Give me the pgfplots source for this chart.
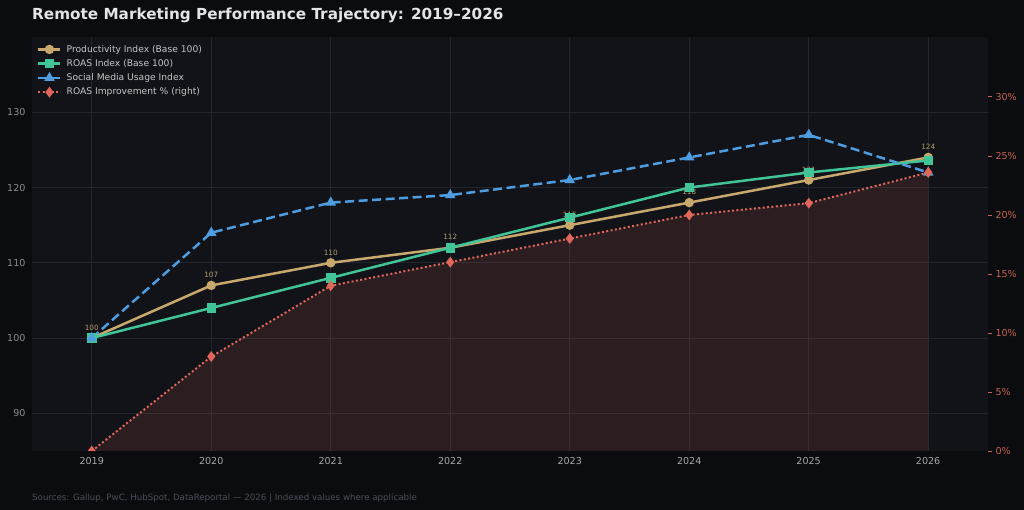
\documentclass[border=0pt]{standalone}
\usepackage{fontspec}
\setmainfont{DejaVu Sans}
\usepackage{pgfplots}
\pgfplotsset{compat=1.18}

\definecolor{figbg}{HTML}{0B0C10}
\definecolor{axbg}{HTML}{111318}
\definecolor{gridcol}{HTML}{22252B}
\definecolor{titlecol}{HTML}{E4E4E4}
\definecolor{xtickcol}{HTML}{A8A8AA}
\definecolor{ytickcol}{HTML}{8A8D95}
\definecolor{rtickcol}{HTML}{C86450}
\definecolor{legcol}{HTML}{C6C6C8}
\definecolor{footcol}{HTML}{4B4E58}
\definecolor{prod}{HTML}{C9A86E}
\definecolor{roas}{HTML}{40C498}
\definecolor{social}{HTML}{4D9DE0}
\definecolor{impr}{HTML}{E0665A}
\definecolor{labcol}{HTML}{B59A6A}

\newcommand\tickfont{\fontsize{9.6}{11}\selectfont}
\newcommand\legfont{\fontsize{9.2}{11}\selectfont}
\newcommand\labfont{\fontsize{7.3}{9}\selectfont}

\pgfplotsset{
  /pgf/number format/assume math mode=true,
  base/.style={
    scale only axis, width=956bp, height=414bp,
    at={(32bp,59bp)}, anchor=south west,
    xmin=2018.5, xmax=2026.5,
  },
  prodstyle/.style={color=prod, line width=2.5bp, mark=*, mark size=3.4bp, mark options={solid}},
  roasstyle/.style={color=roas, line width=2.5bp, mark=square*, mark size=3.5bp, mark options={solid}},
  socstyle/.style={color=social, line width=2.5bp, dash pattern=on 9bp off 4.5bp, mark=triangle*, mark size=3.6bp, mark options={solid}},
  imprstyle/.style={color=impr, line width=2bp, dash pattern=on 2bp off 2.4bp, mark=diamond*, mark size=3.8bp, mark options={solid}},
}

\begin{document}
\begin{tikzpicture}
\fill[figbg] (0bp,0bp) rectangle (1024bp,510bp);

% background, grid and tick labels of the index scale
\begin{axis}[base,
  ymin=85, ymax=140,
  ytick={90,100,...,130}, xtick={2019,...,2026},
  /pgf/number format/1000 sep={},
  axis background/.style={fill=axbg},
  axis line style={draw=none}, tick style={draw=none},
  grid=major, major grid style={draw=gridcol, line width=0.9bp},
  xticklabel style={text=xtickcol, font=\tickfont, yshift=-3bp},
  yticklabel style={text=ytickcol, font=\tickfont, xshift=-3bp},
]
\addplot[draw=none] coordinates {(2019,100)};
\end{axis}

% shaded area under the improvement curve (percent scale)
\begin{axis}[base, ymin=0, ymax=35.08, hide axis]
\addplot[draw=none, fill=impr, fill opacity=0.13] coordinates {
  (2019,0) (2020,8) (2021,14) (2022,16) (2023,18) (2024,20) (2025,21) (2026,23.6)
} \closedcycle;
\end{axis}

% index series
\begin{axis}[base, ymin=85, ymax=140, hide axis]
\addplot[prodstyle,
  nodes near coords,
  every node near coord/.append style={font=\labfont, text=labcol, anchor=base, inner sep=0pt, yshift=7.8bp},
] coordinates {
  (2019,100) (2020,107) (2021,110) (2022,112) (2023,115) (2024,118) (2025,121) (2026,124)
};
\addplot[roasstyle] coordinates {
  (2019,100) (2020,104) (2021,108) (2022,112) (2023,116) (2024,120) (2025,122) (2026,123.6)
};
\addplot[socstyle] coordinates {
  (2019,100) (2020,114) (2021,118) (2022,119) (2023,121) (2024,124) (2025,127) (2026,122)
};
\end{axis}

% improvement series on the right-hand percent scale, with the legend
\begin{axis}[base, ymin=0, ymax=35.08,
  hide x axis,
  axis y line*=right,
  axis line style={draw=none},
  ytick={0,5,...,30},
  yticklabel={\pgfmathprintnumber{\tick}\%},
  yticklabel style={text=rtickcol, font=\tickfont},
  tick align=outside, major tick length=4bp,
  tick style={draw=rtickcol, line width=0.9bp},
  clip marker paths=true,
  legend cell align=left,
  legend image code/.code={\draw[mark repeat=2,mark phase=2] plot coordinates {(0bp,0bp) (11bp,0bp) (22bp,0bp)};},
  legend style={at={(0,1)}, anchor=north west, draw=none, fill=none,
    text=legcol, font=\legfont, inner xsep=5bp, inner ysep=6bp,
    row sep=1.8bp,
    /tikz/every odd column/.append style={column sep=3bp}},
]
\addlegendimage{prodstyle}
\addlegendentry{Productivity Index (Base 100)}
\addlegendimage{roasstyle}
\addlegendentry{ROAS Index (Base 100)}
\addlegendimage{socstyle}
\addlegendentry{Social Media Usage Index}
\addplot[imprstyle] coordinates {
  (2019,0) (2020,8) (2021,14) (2022,16) (2023,18) (2024,20) (2025,21) (2026,23.6)
};
\addlegendentry{ROAS Improvement \% (right)}
\end{axis}

\node[anchor=base west, inner sep=0pt, text=titlecol, font=\fontsize{15.3}{18}\selectfont\bfseries]
  at (32bp,490bp) {Remote Marketing Performance Trajectory: 2019–2026};
\node[anchor=base west, inner sep=0pt, text=footcol, font=\fontsize{8.7}{10}\selectfont]
  at (32bp,10bp) {Sources: Gallup, PwC, HubSpot, DataReportal — 2026 | Indexed values where applicable};

\pgfresetboundingbox
\path[use as bounding box] (0bp,0bp) rectangle (1024bp,510bp);
\end{tikzpicture}
\end{document}
